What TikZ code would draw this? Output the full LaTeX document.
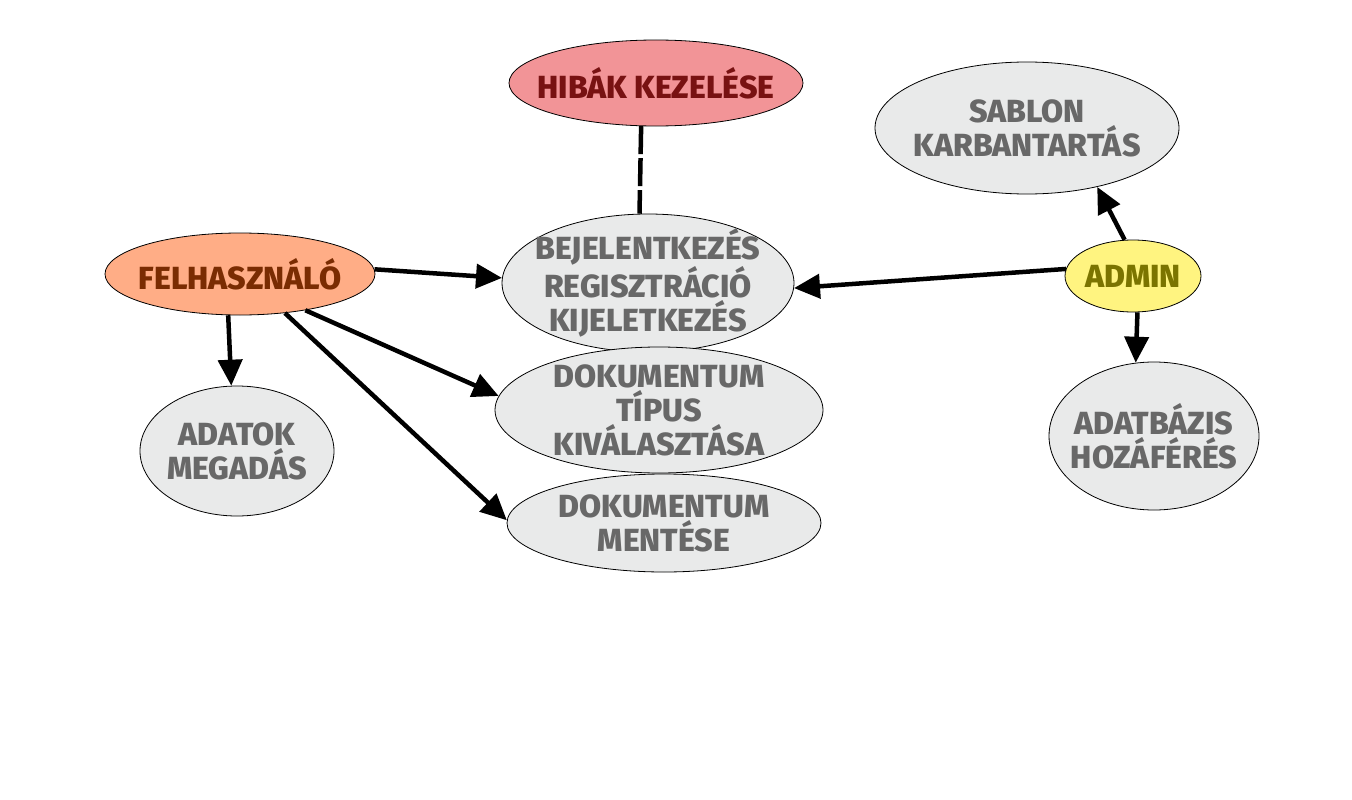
\documentclass[tikz,border=0pt]{standalone}
\usepackage{fontspec}
\setmainfont{Fira Sans}[BoldFont={Fira Sans ExtraBold}]
\usetikzlibrary{shapes.geometric,arrows.meta}
\definecolor{grayfill}{HTML}{E9EAEA}
\definecolor{graytext}{HTML}{686868}
\definecolor{redfill}{HTML}{F29497}
\definecolor{redtext}{HTML}{781212}
\definecolor{orangefill}{HTML}{FFAD86}
\definecolor{orangetext}{HTML}{7A2C02}
\definecolor{yellowfill}{HTML}{FFF480}
\definecolor{yellowtext}{HTML}{7B7400}
\begin{document}
\begin{tikzpicture}[x=1pt,y=-1pt,
	usecase/.style={draw,ellipse,line width=0.8pt,fill=grayfill,text=graytext,inner sep=-40pt,align=center,
		font=\fontsize{32}{34}\selectfont\bfseries},
	arr/.style={-{Triangle[length=26pt,width=24pt]},line width=4.5pt}]
			\useasboundingbox (0,0) rectangle (1352,800);
			\node[usecase,fill=redfill,text=redtext,minimum width=294pt,minimum height=86pt] (hibak)at(656,83) {HIBÁK KEZELÉSE};
			\node[usecase,minimum width=304pt,minimum height=132pt] (sablon)at(1027,128) {SABLON\\KARBANTARTÁS};
			\node[usecase,fill=orangefill,text=orangetext,minimum width=270pt,minimum height=82pt] (felh)at(240,274) {FELHASZNÁLÓ};
			\node[usecase,minimum width=292pt,minimum height=138pt] (bej)at(648,283) {BEJELENTKEZÉS\\REGISZTRÁCIÓ\\KIJELETKEZÉS};
			\node[usecase,fill=yellowfill,text=yellowtext,minimum width=136pt,minimum height=72pt] (admin)at(1133,276) {ADMIN};
			\node[usecase,minimum width=328pt,minimum height=126pt] (tipus)at(659,410) {DOKUMENTUM\\TÍPUS\\KIVÁLASZTÁSA};
			\node[usecase,minimum width=194pt,minimum height=130pt] (adatok)at(237,451) {ADATOK\\MEGADÁS};
			\node[usecase,minimum width=314pt,minimum height=98pt] (mentes)at(664,523) {DOKUMENTUM\\MENTÉSE};
			\node[usecase,minimum width=210pt,minimum height=148pt] (adatbazis)at(1154,436) {ADATBÁZIS\\HOZÁFÉRÉS};
			\draw[line width=4.5pt,dash pattern=on 28pt off 4pt] (hibak.-109) -- (bej.97);
			\draw[arr] (felh.2) -- (bej.178);
			\draw[arr] (felh.-106) -- (adatok.95);
			\draw[arr] (felh.-29) -- (tipus.175);
			\draw[arr] (felh.-41) -- (mentes.179);
			\draw[arr] (admin.174) -- (bej.-2);
			\draw[arr] (admin.103) -- (sablon.-40);
			\draw[arr] (admin.-83) -- (adatbazis.104);
		\end{tikzpicture}
\end{document}
